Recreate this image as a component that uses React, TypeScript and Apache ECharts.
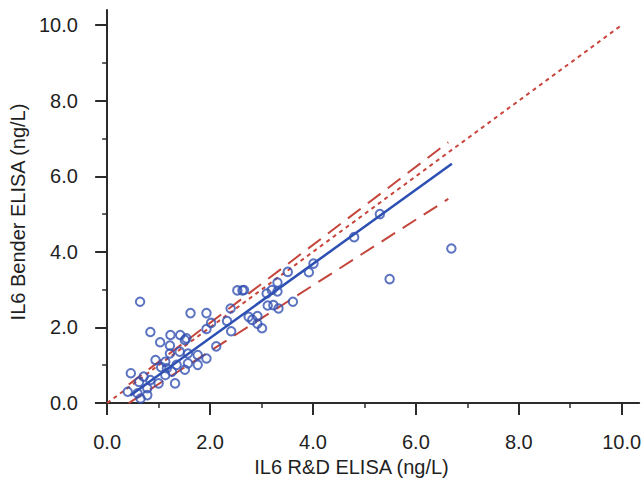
import React, { useEffect, useRef } from "react";
import * as echarts from "echarts";

// Measured pairs: [IL6 R&D ELISA, IL6 Bender ELISA] (ng/L)
const samplePoints: number[][] = [
  [0.64, 2.68], [1.62, 2.38], [1.93, 2.38], [2.40, 2.50], [2.53, 2.98],
  [2.63, 2.98], [2.02, 2.12], [1.93, 1.96], [2.33, 2.17], [2.41, 1.90],
  [2.12, 1.50], [1.54, 1.71], [2.75, 2.28], [2.82, 2.20], [2.92, 2.30],
  [2.92, 2.10], [3.01, 1.98], [3.10, 2.90], [3.20, 2.99], [3.31, 3.19],
  [3.31, 2.95], [3.12, 2.58], [3.33, 2.50], [3.61, 2.68], [3.51, 3.47],
  [3.92, 3.46], [4.01, 3.69], [4.80, 4.39], [5.30, 5.00], [5.49, 3.28],
  [6.69, 4.09], [2.66, 2.99], [3.23, 2.59],
  [0.84, 1.88], [1.03, 1.61], [1.23, 1.80], [1.42, 1.80], [1.22, 1.52],
  [1.51, 1.67], [1.22, 1.31], [1.41, 1.36], [1.57, 1.31], [1.76, 1.27],
  [0.94, 1.14], [1.13, 1.09], [1.93, 1.18], [1.57, 1.05], [1.76, 1.01],
  [1.35, 1.01], [1.16, 0.92], [0.46, 0.79], [0.71, 0.70], [0.62, 0.56],
  [0.84, 0.61], [1.13, 0.74], [1.26, 0.83], [0.78, 0.39], [0.59, 0.26],
  [0.65, 0.12], [0.40, 0.30], [1.32, 0.52], [1.00, 0.52], [0.78, 0.21],
  [1.51, 0.88], [1.05, 0.95],
];

// Fitted lines (endpoints)
const identityLine: number[][] = [[0, 0], [10, 10]];
const regressionLine: number[][] = [[0.45, 0.2], [6.7, 6.33]];
const upperBand: number[][] = [[0.42, 0.49], [6.63, 6.9]];
const lowerBand: number[][] = [[0.42, 0.0], [6.63, 5.4]];

// Axis ticks
const majorTicks = [0, 2, 4, 6, 8, 10];
const minorTicks = [1, 3, 5, 7, 9];

const xName = "IL6 R&D ELISA (ng/L)";
const yName = "IL6 Bender ELISA (ng/L)";

const X_MIN = -0.22;
const X_MAX = 10.34;
const Y_MIN = -0.29;
const Y_MAX = 10.4;

const AXIS_COLOR = "#2b2b2b";
const TEXT_COLOR = "#1f1f1f";
const FONT = "Liberation Sans, Arial, sans-serif";

export default function App() {
  const ref = useRef<HTMLDivElement>(null);

  useEffect(() => {
    if (!ref.current) return;
    const chart = echarts.init(ref.current, undefined, { renderer: "svg" });

    const labelStyle = {
      color: TEXT_COLOR,
      fontSize: 20,
      fontFamily: FONT,
      formatter: (v: number) => v.toFixed(1),
    };

    chart.setOption({
      animation: false,
      backgroundColor: "#ffffff",
      grid: { left: 91, right: 4, top: 10, bottom: 73, containLabel: false },
      xAxis: [
        {
          type: "value",
          min: X_MIN,
          max: X_MAX,
          name: xName,
          nameLocation: "middle",
          nameGap: 40,
          nameTextStyle: {
            color: TEXT_COLOR,
            fontSize: 20,
            fontFamily: FONT,
            padding: [0, 32, 0, 0],
          },
          splitLine: { show: false },
          axisLine: { show: true, lineStyle: { color: AXIS_COLOR, width: 2 } },
          axisTick: {
            show: true,
            customValues: majorTicks,
            length: 12,
            lineStyle: { color: AXIS_COLOR, width: 2 },
          },
          axisLabel: { ...labelStyle, customValues: majorTicks, margin: 18 },
        },
        {
          type: "value",
          min: X_MIN,
          max: X_MAX,
          position: "bottom",
          splitLine: { show: false },
          axisLine: { show: false },
          axisTick: {
            show: true,
            customValues: minorTicks,
            length: 5,
            lineStyle: { color: AXIS_COLOR, width: 1.5 },
          },
          axisLabel: { show: false },
        },
      ],
      yAxis: [
        {
          type: "value",
          min: Y_MIN,
          max: Y_MAX,
          name: yName,
          nameLocation: "middle",
          nameGap: 59,
          nameTextStyle: {
            color: TEXT_COLOR,
            fontSize: 20,
            fontFamily: FONT,
          },
          splitLine: { show: false },
          axisLine: { show: true, lineStyle: { color: AXIS_COLOR, width: 2 } },
          axisTick: {
            show: true,
            customValues: majorTicks,
            length: 12,
            lineStyle: { color: AXIS_COLOR, width: 2 },
          },
          axisLabel: { ...labelStyle, customValues: majorTicks, margin: 18 },
        },
        {
          type: "value",
          min: Y_MIN,
          max: Y_MAX,
          position: "left",
          splitLine: { show: false },
          axisLine: { show: false },
          axisTick: {
            show: true,
            customValues: minorTicks,
            length: 5,
            lineStyle: { color: AXIS_COLOR, width: 1.5 },
          },
          axisLabel: { show: false },
        },
      ],
      series: [
        {
          type: "line",
          name: "Identity",
          data: identityLine,
          symbol: "none",
          xAxisIndex: 0,
          yAxisIndex: 0,
          lineStyle: { color: "#c8453c", width: 2, type: [4, 4] },
          z: 2,
        },
        {
          type: "line",
          name: "Upper",
          data: upperBand,
          symbol: "none",
          xAxisIndex: 0,
          yAxisIndex: 0,
          lineStyle: { color: "#c4453b", width: 2, type: [16, 9] },
          z: 2,
        },
        {
          type: "line",
          name: "Lower",
          data: lowerBand,
          symbol: "none",
          xAxisIndex: 0,
          yAxisIndex: 0,
          lineStyle: { color: "#c4453b", width: 2, type: [16, 9] },
          z: 2,
        },
        {
          type: "line",
          name: "Regression",
          data: regressionLine,
          symbol: "none",
          xAxisIndex: 0,
          yAxisIndex: 0,
          lineStyle: { color: "#2c4fb3", width: 2.5 },
          z: 3,
        },
        {
          type: "scatter",
          name: "Samples",
          data: samplePoints,
          xAxisIndex: 0,
          yAxisIndex: 0,
          symbol: "circle",
          symbolSize: 8.5,
          itemStyle: {
            color: "rgba(255,255,255,0)",
            borderColor: "#3351b2",
            borderWidth: 2,
          },
          z: 4,
        },
      ],
    });

    return () => chart.dispose();
  }, []);

  return (
    <div
      ref={ref}
      style={{ position: "absolute", left: 0, top: 0, width: 644, height: 487 }}
    />
  );
}
